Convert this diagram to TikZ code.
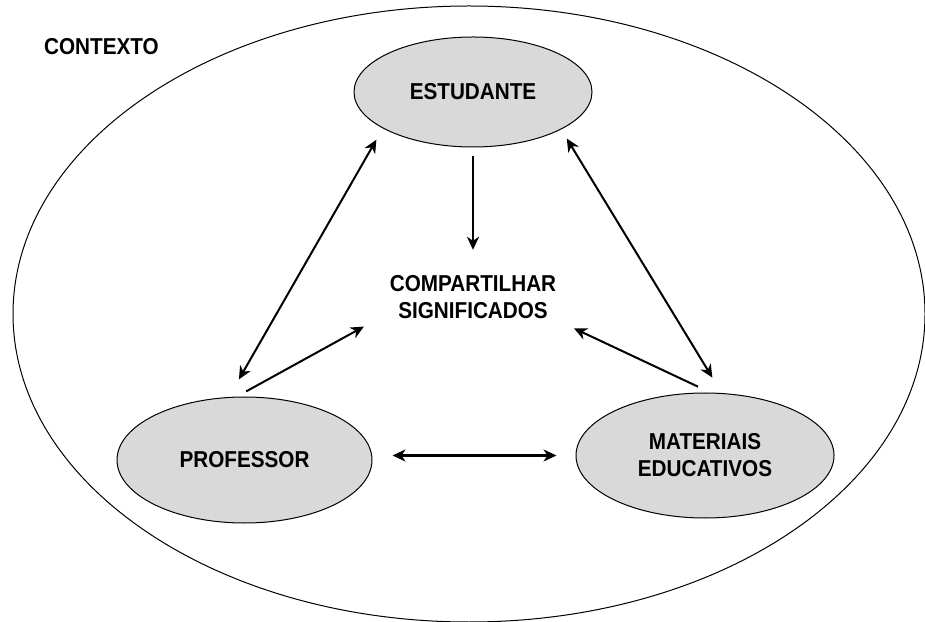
\documentclass[tikz,border=0pt]{standalone}
\usepackage{fontspec}
\setmainfont{Liberation Sans}[FakeStretch=0.9]
\usetikzlibrary{shapes.geometric,arrows.meta}
\definecolor{bubblefill}{RGB}{217,217,217}
\begin{document}
\begin{tikzpicture}[x=1pt,y=1pt,
  txt/.style={font=\bfseries\fontsize{23}{27}\selectfont, align=center, inner sep=0pt},
  bubble/.style={ellipse, draw=black, line width=1pt, fill=bubblefill, txt},
  head/.tip={Stealth[length=13pt,width=12pt,inset=4pt]},
  link/.style={line width=2pt, -head},
  twoway/.style={line width=2pt, head-head}]
\useasboundingbox (0,0) rectangle (925,621);

% surrounding context
\node (ctx) [ellipse, draw=black, line width=1pt, minimum width=912pt,
  minimum height=616pt, inner sep=0pt] at (469,307) {};
\node (ctxlabel) [txt] at (101.5,574) {CONTEXTO};

% the three actors
\node (est) [bubble, minimum width=238pt, minimum height=110pt] at (473,529) {ESTUDANTE};
\node (prof) [bubble, minimum width=255pt, minimum height=126pt] at (244.5,161) {PROFESSOR};
\node (mat) [bubble, minimum width=258pt, minimum height=125pt] at (705,165.5) {MATERIAIS\\EDUCATIVOS};

% shared meaning in the middle
\node (comp) [txt, minimum width=180pt, minimum height=50pt] at (473,324) {COMPARTILHAR\\SIGNIFICADOS};

% connectors
\draw[link] (est.south) -- (comp.north) [shorten <=9pt, shorten >=22pt];
\draw[twoway] (prof.104.5) -- (est.202.6) [shorten <=20.3pt, shorten >=13pt];
\draw[link] (prof.97.7) -- (comp.192.3) [shorten <=10.8pt, shorten >=21.6pt];
\draw[twoway] (mat.75.2) -- (est.337.4) [shorten <=18pt, shorten >=10.7pt];
\draw[link] (mat.85.1) -- (comp.344.7) [shorten <=13.8pt, shorten >=14.5pt];
\draw[twoway] (prof.east |- mat.west) -- (mat.west) [shorten <=20pt, shorten >=19pt];
\end{tikzpicture}
\end{document}
